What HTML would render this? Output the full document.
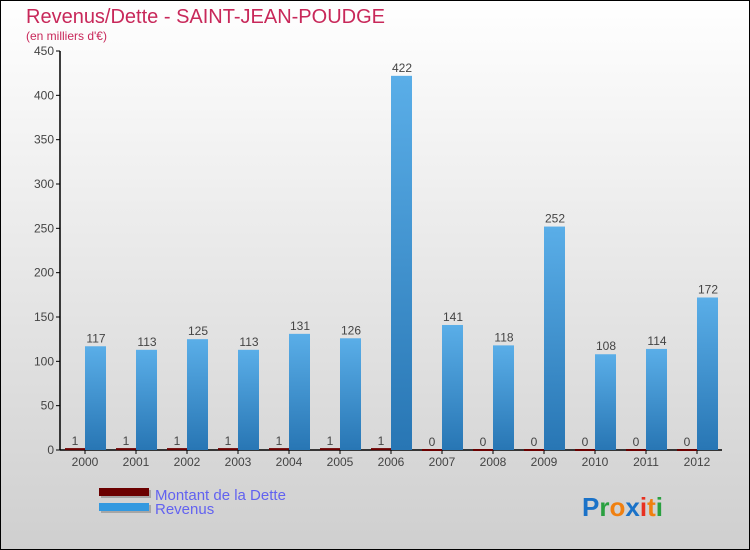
<!DOCTYPE html>
<html><head><meta charset="utf-8"><style>
body{margin:0;}
svg{display:block;font-family:"Liberation Sans",sans-serif;}
</style></head><body>
<svg id="chart" width="750" height="550" viewBox="0 0 750 550">
<defs>
<linearGradient id="bg" x1="0" y1="0" x2="0" y2="1"><stop offset="0" stop-color="#ffffff"/><stop offset="1" stop-color="#cfcfcf"/></linearGradient>
<linearGradient id="blue" x1="0" y1="0" x2="0" y2="1"><stop offset="0" stop-color="#5aaee8"/><stop offset="1" stop-color="#2876b4"/></linearGradient>
</defs>
<rect x="0.5" y="0.5" width="749" height="549" fill="url(#bg)" stroke="#000"/>
<text x="26" y="23" font-size="20" fill="#c8285a">Revenus/Dette - SAINT-JEAN-POUDGE</text>
<text x="26" y="40" font-size="12" fill="#c8285a">(en milliers d'€)</text>
<g id="axes"></g>
<g id="bars"></g>
<rect x="101" y="490" width="50" height="8" fill="#888" opacity="0.6"/>
<rect x="99" y="488" width="50" height="8" fill="#6b0000"/>
<rect x="101" y="505" width="50" height="8" fill="#888" opacity="0.6"/>
<rect x="99" y="503" width="50" height="8" fill="#3399e0"/>
<text x="155" y="500" font-size="15" fill="#6262f0">Montant de la Dette</text>
<text x="155" y="514" font-size="15" fill="#6262f0">Revenus</text>
<g font-size="26" font-weight="bold">
<text x="582" y="516"><tspan fill="#1a72c8">P</tspan><tspan fill="#2aa040">r</tspan><tspan fill="#f08010">o</tspan><tspan fill="#1a72c8">x</tspan><tspan fill="#e83020">i</tspan><tspan fill="#f08010">t</tspan><tspan fill="#2aa040">i</tspan></text>
</g>
</svg>
<script>
const years=["2000","2001","2002","2003","2004","2005","2006","2007","2008","2009","2010","2011","2012"];
const dette=[1,1,1,1,1,1,1,0,0,0,0,0,0];
const revenus=[117,113,125,113,131,126,422,141,118,252,108,114,172];
const yTicks=[0,50,100,150,200,250,300,350,400,450];
const NS="http://www.w3.org/2000/svg";
const y0=450,yTop=51,vMax=450,x0=85,step=51,bw=20;
function yS(v){return y0-(v/vMax)*(y0-yTop);}
function xS(i){return x0+i*step;}
function mk(tag,attrs,parent){const e=document.createElementNS(NS,tag);for(const k in attrs)e.setAttribute(k,attrs[k]);parent.appendChild(e);return e;}
const axes=document.getElementById('axes'),bars=document.getElementById('bars');
yTicks.forEach(t=>{
 const tl=mk('line',{x1:56,x2:60,y1:yS(t),y2:yS(t),stroke:'#000'},axes);
 
 
 const tx=mk('text',{x:54,y:yS(t)+4,'text-anchor':'end','font-size':12,fill:'#444'},axes);
 tx.textContent=t;
 
 
});
years.forEach((yr,i)=>{
 const cx=xS(i);
 const d=mk('rect',{x:cx-bw,y:yS(dette[i])-1,width:bw,height:Math.max(2,y0-yS(dette[i])+1),fill:'#6b0000'},bars);
 
 
 const r=mk('rect',{x:cx,y:yS(revenus[i]),width:bw+1,height:y0-yS(revenus[i]),fill:'url(#blue)'},bars);
 
 
 const dl=mk('text',{x:cx-bw/2,y:yS(dette[i])-4,'text-anchor':'middle','font-size':12,fill:'#444'},bars);
 dl.textContent=dette[i];
 
 
 const rl=mk('text',{x:cx+bw/2+1,y:yS(revenus[i])-4,'text-anchor':'middle','font-size':12,fill:'#444'},bars);
 rl.textContent=revenus[i];
 
 
 const tk=mk('line',{x1:cx,x2:cx,y1:y0,y2:y0+4,stroke:'#000'},axes);
 
 
 const xl=mk('text',{x:cx,y:y0+16,'text-anchor':'middle','font-size':12,fill:'#444'},axes);
 xl.textContent=yr;
 
 
});
const ya=mk('line',{x1:60,x2:60,y1:yTop,y2:y0,stroke:'#000','stroke-width':1.5},axes);


const xa=mk('line',{x1:60,x2:722,y1:y0,y2:y0,stroke:'#000','stroke-width':1.5},axes);


</script>
</body></html>
